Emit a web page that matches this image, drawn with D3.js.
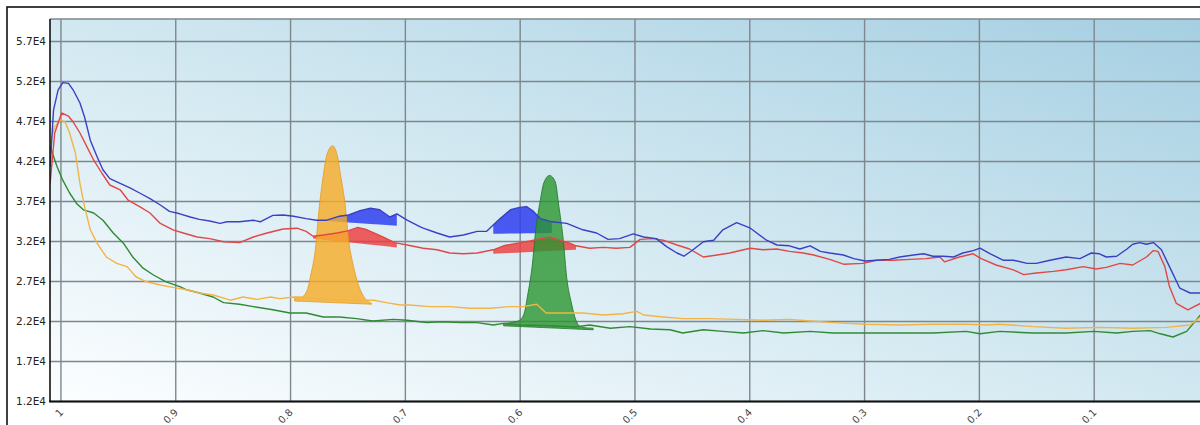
<!DOCTYPE html>
<html>
<head>
<meta charset="utf-8">
<script src="https://cdn.jsdelivr.net/npm/d3@7"></script>
<style>
  html, body { margin: 0; padding: 0; background: #ffffff; }
  svg { display: block; }
</style>
</head>
<body>
<svg id="chart" width="1200" height="425"></svg>
<script>
// ---------------- DATA ----------------
const xTicks = [1, 0.9, 0.8, 0.7, 0.6, 0.5, 0.4, 0.3, 0.2, 0.1];
const xTickLabels = ["1", "0.9", "0.8", "0.7", "0.6", "0.5", "0.4", "0.3", "0.2", "0.1"];
const yTicks = [12000, 17000, 22000, 27000, 32000, 37000, 42000, 47000, 52000, 57000];
const yTickLabels = ["1.2E4", "1.7E4", "2.2E4", "2.7E4", "3.2E4", "3.7E4", "4.2E4", "4.7E4", "5.2E4", "5.7E4"];

const blueSeries = [[1.009,41300],[1.006,48400],[1.002,50900],[0.998,51800],[0.993,51700],[0.989,50900],[0.983,49250],[0.979,47500],[0.974,44600],[0.968,42500],[0.963,40900],[0.957,39800],[0.948,39200],[0.939,38600],[0.931,38000],[0.922,37300],[0.913,36500],[0.905,35700],[0.896,35400],[0.887,35000],[0.879,34700],[0.870,34500],[0.861,34200],[0.855,34400],[0.844,34400],[0.832,34600],[0.826,34400],[0.815,35200],[0.806,35250],[0.797,35100],[0.786,34800],[0.777,34600],[0.768,34600],[0.757,35100],[0.749,35250],[0.739,35800],[0.730,36100],[0.722,35900],[0.713,35000],[0.707,35400],[0.698,34600],[0.687,33800],[0.684,33600],[0.672,33000],[0.661,32500],[0.649,32750],[0.637,33200],[0.629,33200],[0.623,34000],[0.617,34800],[0.608,35900],[0.600,36200],[0.594,36300],[0.588,35700],[0.582,34800],[0.572,34400],[0.559,34200],[0.545,33400],[0.533,33000],[0.523,32200],[0.513,32300],[0.501,32900],[0.492,32500],[0.481,32300],[0.472,31300],[0.463,30500],[0.457,30100],[0.449,30900],[0.440,31900],[0.431,32100],[0.423,33400],[0.411,34300],[0.399,33600],[0.385,32100],[0.376,31500],[0.365,31400],[0.356,31000],[0.347,31400],[0.338,30700],[0.330,30500],[0.318,30250],[0.309,29800],[0.299,29500],[0.289,29600],[0.278,29700],[0.269,30000],[0.257,30250],[0.248,30400],[0.240,30100],[0.231,30100],[0.222,30000],[0.214,30500],[0.205,30800],[0.199,31100],[0.190,30400],[0.179,29600],[0.170,29600],[0.158,29200],[0.150,29200],[0.138,29600],[0.124,30000],[0.112,29800],[0.102,30500],[0.095,30400],[0.089,30000],[0.080,30100],[0.071,31000],[0.066,31600],[0.060,31800],[0.054,31600],[0.048,31800],[0.041,30900],[0.034,28800],[0.025,26100],[0.016,25500],[0.007,25500]];

const redSeries = [[1.009,39200],[1.005,45500],[0.999,48000],[0.993,47600],[0.989,46900],[0.983,45500],[0.977,43800],[0.971,42100],[0.964,40500],[0.957,39000],[0.948,38400],[0.941,37100],[0.931,36300],[0.922,35500],[0.913,34200],[0.902,33400],[0.893,33000],[0.881,32500],[0.870,32300],[0.858,31900],[0.844,31800],[0.832,32500],[0.820,33000],[0.806,33500],[0.794,33600],[0.786,33200],[0.780,32600],[0.771,32750],[0.759,33000],[0.749,33300],[0.741,33700],[0.733,33400],[0.725,32900],[0.716,32300],[0.709,31800],[0.698,31500],[0.684,31100],[0.672,30900],[0.661,30500],[0.649,30400],[0.637,30500],[0.623,30900],[0.614,31400],[0.603,31700],[0.591,32000],[0.582,32300],[0.574,32500],[0.565,32100],[0.556,31700],[0.551,31400],[0.539,31100],[0.527,31200],[0.516,31100],[0.504,31200],[0.495,32200],[0.484,32300],[0.475,32100],[0.463,31500],[0.452,31000],[0.440,30000],[0.428,30250],[0.417,30500],[0.405,30900],[0.399,31100],[0.388,30900],[0.376,31000],[0.365,30700],[0.353,30500],[0.344,30250],[0.330,29700],[0.318,29100],[0.301,29200],[0.289,29600],[0.275,29600],[0.260,29700],[0.246,29800],[0.234,30000],[0.230,29400],[0.217,30000],[0.205,30400],[0.198,29800],[0.185,29000],[0.170,28400],[0.161,27800],[0.150,28000],[0.135,28200],[0.124,28400],[0.109,28800],[0.098,28500],[0.089,28700],[0.077,29200],[0.066,29000],[0.054,30000],[0.048,30800],[0.044,30700],[0.038,28800],[0.034,26300],[0.028,24200],[0.018,23400],[0.007,24200]];

const orangeSeries = [[1.009,44200],[1.005,46300],[1.000,47100],[0.996,46900],[0.992,45500],[0.987,43000],[0.983,39200],[0.979,36300],[0.974,33400],[0.968,31700],[0.960,30000],[0.951,29200],[0.942,28800],[0.934,27500],[0.925,26900],[0.913,26500],[0.902,26200],[0.890,25900],[0.879,25500],[0.867,25250],[0.852,24600],[0.841,25000],[0.829,24700],[0.817,25000],[0.809,24800],[0.797,25000],[0.774,24750],[0.748,24600],[0.727,24600],[0.716,24300],[0.704,24000],[0.696,24000],[0.678,23800],[0.661,23800],[0.643,23600],[0.626,23600],[0.608,23800],[0.597,23800],[0.585,24100],[0.577,23000],[0.562,23000],[0.545,23000],[0.527,22750],[0.510,22900],[0.498,23200],[0.492,22750],[0.475,22500],[0.458,22300],[0.434,22300],[0.411,22200],[0.388,22100],[0.365,22200],[0.347,22000],[0.327,21800],[0.298,21600],[0.269,21500],[0.240,21600],[0.211,21600],[0.193,21500],[0.182,21600],[0.153,21300],[0.124,21100],[0.095,21200],[0.066,21100],[0.037,21200],[0.016,21500],[0.007,22500]];

const greenSeries = [[1.009,43800],[1.003,41300],[0.998,39600],[0.992,38000],[0.986,36700],[0.980,35900],[0.971,35500],[0.963,34600],[0.954,33000],[0.945,31700],[0.937,30000],[0.928,28600],[0.919,27750],[0.908,26900],[0.896,26300],[0.890,25900],[0.879,25500],[0.867,25000],[0.858,24300],[0.844,24100],[0.832,23800],[0.815,23400],[0.800,23000],[0.786,23000],[0.771,22500],[0.757,22500],[0.742,22300],[0.728,22000],[0.710,22200],[0.698,22100],[0.687,21900],[0.681,21800],[0.667,21900],[0.652,21800],[0.637,21800],[0.623,21500],[0.614,21700],[0.600,21500],[0.574,21400],[0.552,21250],[0.539,21500],[0.521,21100],[0.504,21300],[0.486,21000],[0.469,20900],[0.458,20500],[0.440,20900],[0.423,20700],[0.405,20500],[0.388,20800],[0.370,20500],[0.347,20700],[0.327,20500],[0.298,20500],[0.269,20500],[0.240,20500],[0.211,20700],[0.199,20400],[0.182,20700],[0.153,20500],[0.124,20500],[0.100,20700],[0.080,20500],[0.066,20700],[0.051,20800],[0.042,20400],[0.031,20000],[0.019,20700],[0.007,22750]];

// large shaded peaks: top outline, and the base value at the first and last point
const orangePeak = [[0.796,25000],[0.790,25000],[0.785,25900],[0.782,27750],[0.778,30900],[0.775,35600],[0.771,40250],[0.768,42750],[0.763,43900],[0.759,42750],[0.756,40250],[0.752,36500],[0.749,32100],[0.745,29000],[0.741,26750],[0.736,25100],[0.729,24200]];
const orangePeakBase = [24500, 24100];
const greenPeak = [[0.614,21700],[0.604,21900],[0.600,22100],[0.596,23000],[0.593,25250],[0.589,29000],[0.586,33400],[0.582,37100],[0.579,39250],[0.574,40200],[0.569,39400],[0.566,36500],[0.562,32100],[0.559,27400],[0.555,24300],[0.551,22100],[0.546,21200],[0.536,21100]];
const greenPeakBase = [21400, 20900];

// highlighted regions under the blue / red traces: x range and base values
const blueBandFrom = [0.768, 0.623];
const blueBandTo = [0.707, 0.572];
const blueBandBase = [[34500, 33900], [32900, 33000]];
const redBandFrom = [0.780, 0.623];
const redBandTo = [0.707, 0.551];
const redBandBase = [[32300, 31200], [30400, 30900]];

// ---------------- LAYOUT ----------------
const svg = d3.select("#chart");
const W = 1200, H = 425;
const plot = { left: 50, top: 19, right: 1200, bottom: 401 };
const pw = plot.right - plot.left, ph = plot.bottom - plot.top;

const x = d3.scaleLinear().domain([1.0091, 0.0074]).range([plot.left, plot.right]);
const y = d3.scaleLinear().domain([12000, 59750]).range([plot.bottom, plot.top]);

svg.append("rect").attr("width", W).attr("height", H).attr("fill", "#ffffff");

const defs = svg.append("defs");
const grad = defs.append("linearGradient").attr("id", "bg")
  .attr("x1", 0).attr("y1", 1).attr("x2", 1).attr("y2", 0);
grad.append("stop").attr("offset", 0).attr("stop-color", "#fcfeff");
grad.append("stop").attr("offset", 0.5).attr("stop-color", "#d2e8f1");
grad.append("stop").attr("offset", 1).attr("stop-color", "#a5cfe2");
defs.append("clipPath").attr("id", "clip").append("rect")
  .attr("x", plot.left).attr("y", plot.top).attr("width", pw).attr("height", ph);

// outer frame
svg.append("rect").attr("x", 7).attr("y", 7).attr("width", 1210).attr("height", 440)
  .attr("fill", "none").attr("stroke", "#111").attr("stroke-width", 1.6);

// plot background
svg.append("rect").attr("x", plot.left).attr("y", plot.top).attr("width", pw).attr("height", ph)
  .attr("fill", "url(#bg)");

// grid via axes
const gy = svg.append("g").attr("transform", `translate(${plot.left},0)`)
  .call(d3.axisLeft(y).tickValues(yTicks).tickFormat((d, i) => yTickLabels[i]).tickSize(-pw).tickPadding(4));
gy.select(".domain").remove();
gy.selectAll(".tick line").attr("stroke", "#7e878b").attr("stroke-width", 1.4);
gy.selectAll(".tick text").attr("x", -4).attr("fill", "#222")
  .style("font-family", "'DejaVu Sans', Verdana, sans-serif").style("font-size", "10.5px");

const gx = svg.append("g").attr("transform", `translate(0,${plot.bottom})`)
  .call(d3.axisBottom(x).tickValues(xTicks).tickFormat((d, i) => xTickLabels[i]).tickSize(-ph).tickPadding(0));
gx.select(".domain").remove();
gx.selectAll(".tick line").attr("stroke", "#7e878b").attr("stroke-width", 1.4);
gx.selectAll(".tick text")
  .attr("y", 0).attr("dy", 0)
  .attr("text-anchor", "end")
  .attr("transform", "translate(3,12) rotate(-45)")
  .attr("fill", "#444")
  .style("font-family", "'DejaVu Sans', Verdana, sans-serif").style("font-size", "10px");

// top border of plot
svg.append("line").attr("x1", plot.left).attr("x2", plot.right).attr("y1", plot.top).attr("y2", plot.top)
  .attr("stroke", "#7e878b").attr("stroke-width", 1.6);

const g = svg.append("g").attr("clip-path", "url(#clip)");

function interp(series, xv) {
  for (let i = 0; i < series.length - 1; i++) {
    const a = series[i], b = series[i + 1];
    if ((xv <= a[0] && xv >= b[0])) {
      const s = d3.scaleLinear().domain([a[0], b[0]]).range([a[1], b[1]]);
      return s(xv);
    }
  }
  return series[series.length - 1][1];
}

function bandArea(series, from, to, base) {
  const pts = [[from, interp(series, from)]]
    .concat(series.filter(d => d[0] < from && d[0] > to))
    .concat([[to, interp(series, to)]]);
  const baseScale = d3.scaleLinear().domain([from, to]).range(base);
  return d3.area().x(d => x(d[0])).y1(d => y(d[1])).y0(d => y(baseScale(d[0])))(pts);
}
function peakArea(pts, base) {
  const baseScale = d3.scaleLinear().domain([pts[0][0], pts[pts.length - 1][0]]).range(base);
  return d3.area().curve(d3.curveMonotoneX).x(d => x(d[0])).y1(d => y(d[1])).y0(d => y(baseScale(d[0])))(pts);
}

// bands
blueBandFrom.forEach((f, i) => {
  g.append("path").attr("d", bandArea(blueSeries, f, blueBandTo[i], blueBandBase[i]))
    .attr("fill", "#2f3ff0").attr("fill-opacity", 0.85);
});
redBandFrom.forEach((f, i) => {
  g.append("path").attr("d", bandArea(redSeries, f, redBandTo[i], redBandBase[i]))
    .attr("fill", "#ee3a3a").attr("fill-opacity", 0.8);
});

// peaks
g.append("path").attr("d", peakArea(orangePeak, orangePeakBase))
  .attr("fill", "#f5ac2a").attr("fill-opacity", 0.82)
  .attr("stroke", "#e39a20").attr("stroke-width", 0.8);
g.append("path").attr("d", peakArea(greenPeak, greenPeakBase))
  .attr("fill", "#2a9630").attr("fill-opacity", 0.8)
  .attr("stroke", "#1e7322").attr("stroke-width", 0.8);

// lines
const line = d3.line().x(d => x(d[0])).y(d => y(d[1]));
[[greenSeries, "#2f8a33"], [orangeSeries, "#f2b445"], [redSeries, "#e04848"], [blueSeries, "#3a40c4"]]
  .forEach(([s, c]) => {
    g.append("path").attr("d", line(s)).attr("fill", "none")
      .attr("stroke", c).attr("stroke-width", 1.4).attr("stroke-linejoin", "round");
  });

// axis lines
svg.append("line").attr("x1", plot.left).attr("x2", plot.left).attr("y1", plot.top).attr("y2", plot.bottom + 1)
  .attr("stroke", "#111").attr("stroke-width", 1.6);
svg.append("line").attr("x1", plot.left - 1).attr("x2", plot.right).attr("y1", plot.bottom + 0.5).attr("y2", plot.bottom + 0.5)
  .attr("stroke", "#111").attr("stroke-width", 2.2);
</script>
</body>
</html>
